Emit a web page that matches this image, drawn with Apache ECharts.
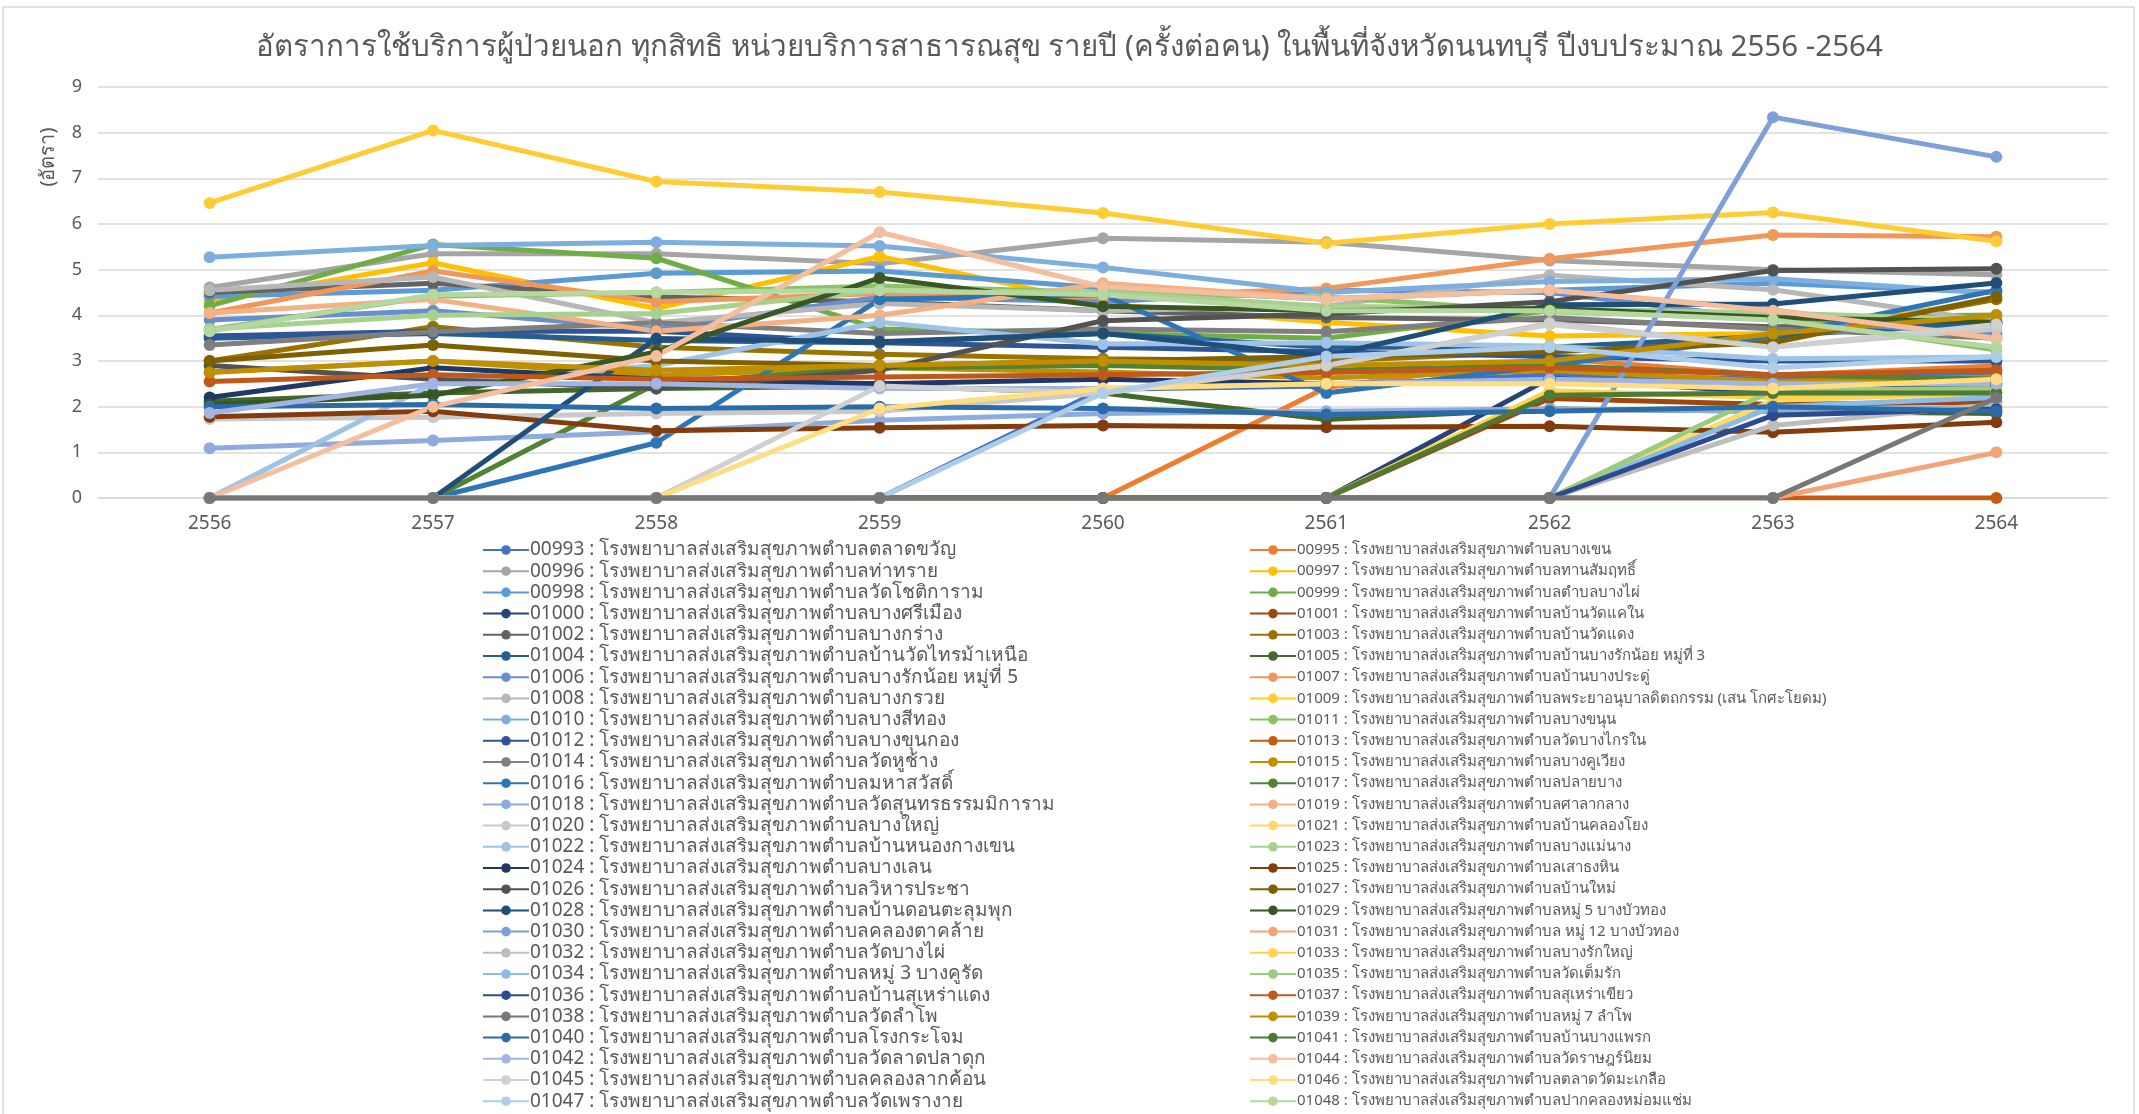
<!DOCTYPE html>
<html>
<head>
<meta charset="utf-8">
<script src="https://cdn.jsdelivr.net/npm/echarts@6/dist/echarts.min.js"></script>
<style>
  html, body { margin: 0; padding: 0; background: #fff; }
  #main { width: 2139px; height: 1114px; }
</style>
</head>
<body>
<div id="main"></div>
<script>
// budget years on the x axis
const years = ['2556', '2557', '2558', '2559', '2560', '2561', '2562', '2563', '2564']

// series labels, in the order Excel plotted them
const names = [
  '00993 : โรงพยาบาลส่งเสริมสุขภาพตำบลตลาดขวัญ',
  '00995 : โรงพยาบาลส่งเสริมสุขภาพตำบลบางเขน',
  '00996 : โรงพยาบาลส่งเสริมสุขภาพตำบลท่าทราย',
  '00997 : โรงพยาบาลส่งเสริมสุขภาพตำบลทานสัมฤทธิ์',
  '00998 : โรงพยาบาลส่งเสริมสุขภาพตำบลวัดโชติการาม',
  '00999 : โรงพยาบาลส่งเสริมสุขภาพตำบลตำบลบางไผ่',
  '01000 : โรงพยาบาลส่งเสริมสุขภาพตำบลบางศรีเมือง',
  '01001 : โรงพยาบาลส่งเสริมสุขภาพตำบลบ้านวัดแคใน',
  '01002 : โรงพยาบาลส่งเสริมสุขภาพตำบลบางกร่าง',
  '01003 : โรงพยาบาลส่งเสริมสุขภาพตำบลบ้านวัดแดง',
  '01004 : โรงพยาบาลส่งเสริมสุขภาพตำบลบ้านวัดไทรม้าเหนือ',
  '01005 : โรงพยาบาลส่งเสริมสุขภาพตำบลบ้านบางรักน้อย หมู่ที่ 3',
  '01006 : โรงพยาบาลส่งเสริมสุขภาพตำบลบางรักน้อย หมู่ที่ 5',
  '01007 : โรงพยาบาลส่งเสริมสุขภาพตำบลบ้านบางประดู่',
  '01008 : โรงพยาบาลส่งเสริมสุขภาพตำบลบางกรวย',
  '01009 : โรงพยาบาลส่งเสริมสุขภาพตำบลพระยาอนุบาลดิตถกรรม (เสน โกศะโยดม)',
  '01010 : โรงพยาบาลส่งเสริมสุขภาพตำบลบางสีทอง',
  '01011 : โรงพยาบาลส่งเสริมสุขภาพตำบลบางขนุน',
  '01012 : โรงพยาบาลส่งเสริมสุขภาพตำบลบางขุนกอง',
  '01013 : โรงพยาบาลส่งเสริมสุขภาพตำบลวัดบางไกรใน',
  '01014 : โรงพยาบาลส่งเสริมสุขภาพตำบลวัดหูช้าง',
  '01015 : โรงพยาบาลส่งเสริมสุขภาพตำบลบางคูเวียง',
  '01016 : โรงพยาบาลส่งเสริมสุขภาพตำบลมหาสวัสดิ์',
  '01017 : โรงพยาบาลส่งเสริมสุขภาพตำบลปลายบาง',
  '01018 : โรงพยาบาลส่งเสริมสุขภาพตำบลวัดสุนทรธรรมมิการาม',
  '01019 : โรงพยาบาลส่งเสริมสุขภาพตำบลศาลากลาง',
  '01020 : โรงพยาบาลส่งเสริมสุขภาพตำบลบางใหญ่',
  '01021 : โรงพยาบาลส่งเสริมสุขภาพตำบลบ้านคลองโยง',
  '01022 : โรงพยาบาลส่งเสริมสุขภาพตำบลบ้านหนองกางเขน',
  '01023 : โรงพยาบาลส่งเสริมสุขภาพตำบลบางแม่นาง',
  '01024 : โรงพยาบาลส่งเสริมสุขภาพตำบลบางเลน',
  '01025 : โรงพยาบาลส่งเสริมสุขภาพตำบลเสาธงหิน',
  '01026 : โรงพยาบาลส่งเสริมสุขภาพตำบลวิหารประชา',
  '01027 : โรงพยาบาลส่งเสริมสุขภาพตำบลบ้านใหม่',
  '01028 : โรงพยาบาลส่งเสริมสุขภาพตำบลบ้านดอนตะลุมพุก',
  '01029 : โรงพยาบาลส่งเสริมสุขภาพตำบลหมู่ 5 บางบัวทอง',
  '01030 : โรงพยาบาลส่งเสริมสุขภาพตำบลคลองตาคล้าย',
  '01031 : โรงพยาบาลส่งเสริมสุขภาพตำบล หมู่ 12 บางบัวทอง',
  '01032 : โรงพยาบาลส่งเสริมสุขภาพตำบลวัดบางไผ่',
  '01033 : โรงพยาบาลส่งเสริมสุขภาพตำบลบางรักใหญ่',
  '01034 : โรงพยาบาลส่งเสริมสุขภาพตำบลหมู่ 3 บางคูรัด',
  '01035 : โรงพยาบาลส่งเสริมสุขภาพตำบลวัดเต็มรัก',
  '01036 : โรงพยาบาลส่งเสริมสุขภาพตำบลบ้านสุเหร่าแดง',
  '01037 : โรงพยาบาลส่งเสริมสุขภาพตำบลสุเหร่าเขียว',
  '01038 : โรงพยาบาลส่งเสริมสุขภาพตำบลวัดลำโพ',
  '01039 : โรงพยาบาลส่งเสริมสุขภาพตำบลหมู่ 7 ลำโพ',
  '01040 : โรงพยาบาลส่งเสริมสุขภาพตำบลโรงกระโจม',
  '01041 : โรงพยาบาลส่งเสริมสุขภาพตำบลบ้านบางแพรก',
  '01042 : โรงพยาบาลส่งเสริมสุขภาพตำบลวัดลาดปลาดุก',
  '01044 : โรงพยาบาลส่งเสริมสุขภาพตำบลวัดราษฎร์นิยม',
  '01045 : โรงพยาบาลส่งเสริมสุขภาพตำบลคลองลากค้อน',
  '01046 : โรงพยาบาลส่งเสริมสุขภาพตำบลตลาดวัดมะเกลือ',
  '01047 : โรงพยาบาลส่งเสริมสุขภาพตำบลวัดเพรางาย',
  '01048 : โรงพยาบาลส่งเสริมสุขภาพตำบลปากคลองหม่อมแช่ม'
]

// visits per person, one row per series, years 2556..2564
const values = [
  [0, 0, 0, 0, 2.38, 2.45, 2.7, 2.6, 2.75],
  [0, 0, 0, 0, 0, 2.42, 3.06, 2.69, 2.89],
  [4.61, 5.35, 5.35, 5.13, 5.69, 5.6, 5.2, 5.0, 4.89],
  [4.3, 5.15, 4.15, 5.29, 4.25, 3.85, 3.55, 3.6, 4.35],
  [4.41, 4.55, 4.92, 4.97, 4.6, 4.35, 4.55, 4.7, 4.5],
  [4.21, 5.55, 5.25, 3.7, 3.6, 3.5, 4.1, 3.95, 4.01],
  [0, 0, 0, 0, 0, 0, 2.62, 2.3, 2.45],
  [0, 0, 0, 0, 0, 0, 2.18, 2.05, 2.1],
  [4.5, 4.7, 4.4, 4.3, 4.1, 3.95, 3.9, 3.75, 3.8],
  [3.0, 3.75, 3.3, 3.15, 3.05, 3.0, 3.2, 3.45, 4.35],
  [3.5, 3.6, 3.45, 3.4, 3.6, 3.3, 3.3, 3.55, 3.85],
  [2.12, 2.3, 2.4, 2.45, 2.3, 1.72, 1.95, 1.9, 1.85],
  [3.9, 4.1, 3.7, 4.4, 4.3, 4.55, 4.5, 3.9, 3.6],
  [4.05, 4.97, 4.3, 4.48, 4.4, 4.59, 5.24, 5.76, 5.72],
  [4.55, 4.84, 3.84, 4.26, 4.1, 4.2, 4.88, 4.56, 3.86],
  [6.46, 8.05, 6.93, 6.7, 6.24, 5.58, 6.0, 6.25, 5.62],
  [5.27, 5.53, 5.6, 5.52, 5.05, 4.5, 4.74, 4.8, 4.49],
  [3.69, 4.42, 4.5, 4.64, 4.5, 4.4, 4.08, 3.95, 3.24],
  [3.55, 3.65, 3.65, 3.4, 3.3, 3.2, 3.1, 3.0, 3.0],
  [0, 0, 0, 0, 0, 0, 0, 0, 0],
  [3.35, 3.64, 3.84, 3.6, 3.7, 3.64, 3.95, 3.7, 3.5],
  [2.76, 3.0, 2.69, 2.85, 2.76, 2.63, 2.79, 2.55, 2.65],
  [0, 0, 1.21, 4.35, 4.45, 2.3, 2.9, 3.55, 4.55],
  [0, 0, 2.5, 2.85, 2.9, 2.8, 2.9, 2.7, 2.6],
  [1.09, 1.26, 1.45, 1.7, 1.85, 1.9, 1.95, 1.9, 2.0],
  [4.05, 4.35, 3.65, 4.0, 4.7, 4.37, 4.55, 4.12, 3.48],
  [1.73, 1.77, 1.85, 1.9, 2.3, 2.89, 3.83, 3.31, 3.7],
  [0, 0, 0, 0, 0, 0, 0, 2.14, 2.3],
  [0, 2.5, 2.9, 3.85, 3.37, 3.4, 3.33, 3.05, 3.09],
  [3.7, 4.0, 4.04, 4.55, 4.5, 4.2, 4.15, 4.05, 3.9],
  [2.2, 2.85, 2.6, 2.5, 2.6, 2.5, 2.6, 2.4, 2.5],
  [1.78, 1.9, 1.47, 1.54, 1.59, 1.55, 1.57, 1.44, 1.66],
  [2.9, 2.6, 2.4, 2.8, 3.88, 4.03, 4.3, 4.98, 5.02],
  [3.0, 3.35, 3.0, 2.9, 3.0, 3.1, 3.2, 3.4, 4.4],
  [0, 0, 3.49, 3.42, 3.6, 3.11, 4.23, 4.25, 4.71],
  [2.05, 2.25, 3.2, 4.82, 4.2, 4.1, 4.15, 3.95, 3.85],
  [0, 0, 0, 0, 0, 0, 0, 8.34, 7.47],
  [0, 0, 0, 0, 0, 0, 0, 0, 1.0],
  [0, 0, 0, 0, 0, 0, 0, 1.59, 2.05],
  [0, 0, 0, 0, 0, 0, 2.35, 2.2, 2.3],
  [0, 0, 0, 0, 0, 0, 0, 2.0, 2.2],
  [0, 0, 0, 0, 0, 0, 0, 2.36, 2.4],
  [0, 0, 0, 0, 0, 0, 0, 1.81, 1.95],
  [2.55, 2.7, 2.6, 2.65, 2.7, 2.75, 2.85, 2.7, 2.8],
  [0, 0, 0, 0, 0, 0, 0, 0, 2.19],
  [2.75, 3.0, 2.8, 2.9, 3.0, 2.9, 3.0, 3.6, 4.0],
  [2.0, 2.05, 1.96, 2.0, 1.96, 1.83, 1.9, 2.0, 1.9],
  [0, 0, 0, 0, 0, 0, 2.25, 2.3, 2.3],
  [1.86, 2.5, 2.5, 2.4, 2.4, 2.5, 2.6, 2.5, 2.5],
  [0, 2.0, 3.11, 5.82, 4.62, 4.35, 4.55, 4.1, 3.5],
  [0, 0, 0, 2.45, 2.3, 2.9, 3.8, 3.3, 3.8],
  [0, 0, 0, 1.96, 2.4, 2.5, 2.5, 2.4, 2.6],
  [0, 0, 0, 0, 2.3, 3.1, 3.3, 2.85, 3.1],
  [3.65, 4.45, 4.5, 4.55, 4.45, 4.1, 4.1, 3.9, 3.3]
]

// office palette with its darker / lighter cycles
const colors = [
  '#4472C4', '#ED7D31', '#A5A5A5', '#FFC000', '#5B9BD5', '#70AD47',
  '#264478', '#9E480E', '#636363', '#997300', '#255E91', '#43682B',
  '#698ED0', '#F1975A', '#B7B7B7', '#FFCD33', '#7CAFDD', '#8CC168',
  '#2F5597', '#C55A11', '#7F7F7F', '#BF9000', '#2E75B6', '#548235',
  '#8FAADC', '#F4B183', '#C9C9C9', '#FFD966', '#9DC3E6', '#A9D18E',
  '#203864', '#843C0C', '#525252', '#7F6000', '#1F4E79', '#385723',
  '#7F9FD8', '#F3A57A', '#BDBDBD', '#FFD24D', '#8BBCE5', '#9BCB7C',
  '#2E4A8F', '#C0581A', '#777777', '#BF8F00', '#2B6BA8', '#4E7A33',
  '#A2B5E2', '#F5BE9E', '#D0D0D0', '#FFDD80', '#ADCDEB', '#B5D8A0'
]

const TEXT = '#595959'
const FONT = 'Tahoma, "Noto Sans", "DejaVu Sans", sans-serif'

const chart = echarts.init(document.getElementById('main'))

const series = names.map((name, i) => ({
  name: name,
  type: 'line',
  data: values[i],
  symbol: 'circle',
  symbolSize: 12,
  // the all-zero grey one sits on top along the baseline
  z: i === 44 ? 4 : 2,
  lineStyle: { width: 5, color: colors[i] },
  itemStyle: { color: colors[i] }
}))

function legendCol (left, fontSize, keep) {
  return {
    orient: 'vertical',
    left: left,
    top: 540,
    bottom: 0,
    padding: 0,
    itemWidth: 46,
    itemHeight: 12,
    itemGap: 1.2,
    selectedMode: false,
    data: names.filter((n, i) => i % 2 === keep),
    textStyle: { color: TEXT, fontSize: fontSize, lineHeight: 20, fontFamily: FONT, padding: [0, 0, 0, -4] }
  }
}

chart.setOption({
  animation: false,
  backgroundColor: '#fff',
  title: {
    text: 'อัตราการใช้บริการผู้ป่วยนอก ทุกสิทธิ หน่วยบริการสาธารณสุข รายปี (ครั้งต่อคน) ในพื้นที่จังหวัดนนทบุรี ปีงบประมาณ 2556 -2564',
    left: 'center',
    top: 28,
    textStyle: { color: TEXT, fontSize: 29.5, fontWeight: 'normal', fontFamily: FONT }
  },
  legend: [legendCol(482, 19, 0), legendCol(1249, 15, 1)],
  grid: { left: 98, right: 31, top: 87, bottom: 616, containLabel: false },
  xAxis: {
    type: 'category',
    data: years,
    boundaryGap: true,
    axisLine: { show: true, lineStyle: { color: '#d9d9d9', width: 1.5 } },
    axisTick: { show: false },
    axisLabel: { color: TEXT, fontSize: 19, margin: 16, fontFamily: FONT }
  },
  yAxis: {
    type: 'value',
    min: 0,
    max: 9,
    interval: 1,
    axisLine: { show: false },
    axisTick: { show: false },
    axisLabel: { color: TEXT, fontSize: 18, margin: 16, fontFamily: FONT },
    splitLine: { lineStyle: { color: '#d9d9d9', width: 1.5 } }
  },
  graphic: [
    {
      type: 'rect',
      silent: true,
      shape: { x: 3, y: 7, width: 2131, height: 1120 },
      style: { fill: 'none', stroke: '#d9d9d9', lineWidth: 1.5 }
    },
    {
      type: 'text',
      x: 48,
      y: 157,
      rotation: Math.PI / 2,
      style: {
        text: '(อัตรา)',
        fill: TEXT,
        font: '20px ' + FONT,
        align: 'center',
        verticalAlign: 'middle'
      }
    }
  ],
  series: series
})
</script>
</body>
</html>
